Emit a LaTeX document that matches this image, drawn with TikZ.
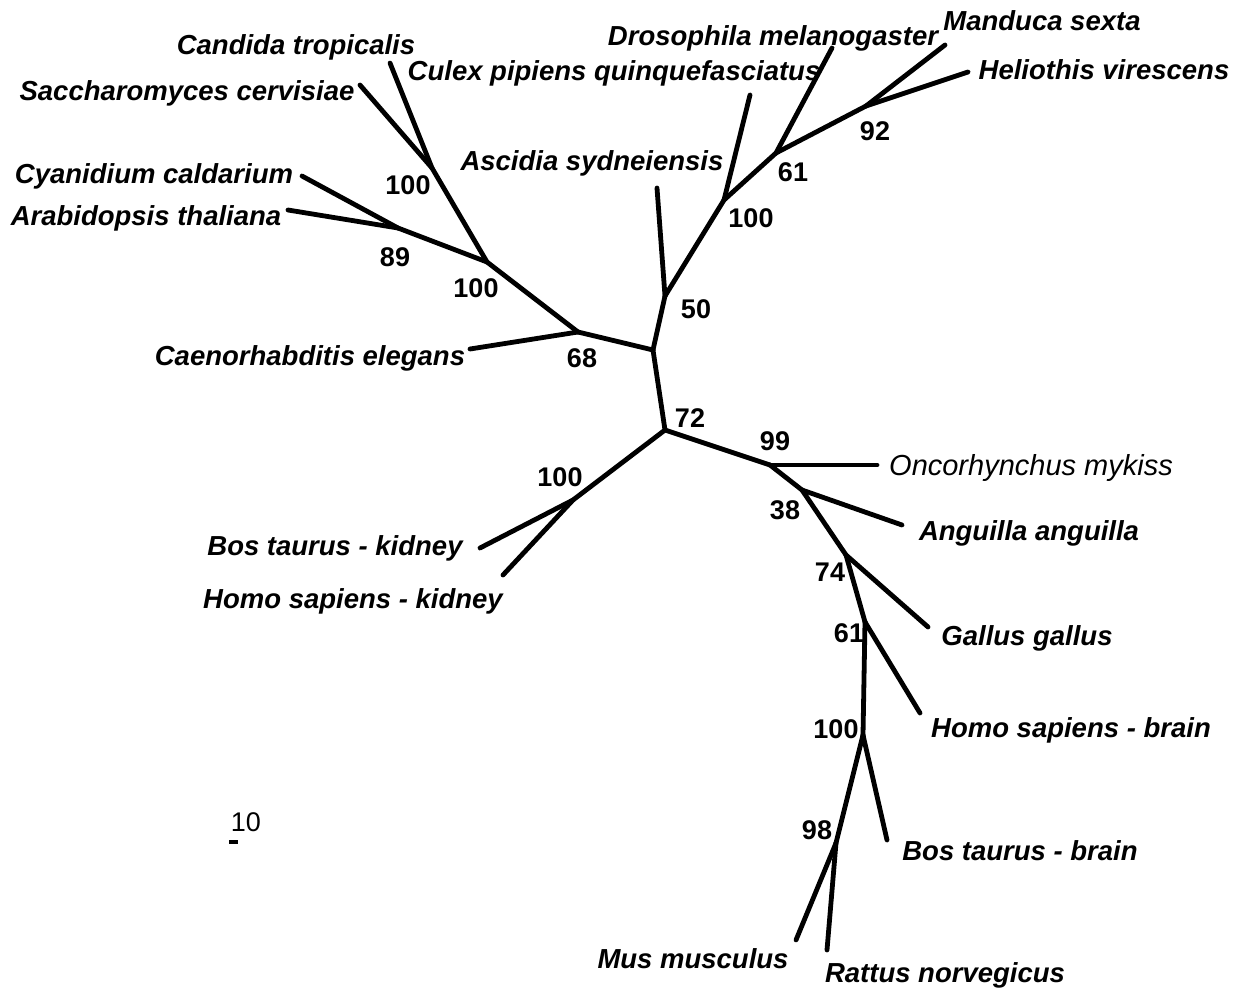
\documentclass[tikz,border=0pt]{standalone}
\usepackage{fontspec}
\setmainfont{Liberation Sans}
\tikzset{
  branch/.style={line width=4.8pt, line cap=round, line join=round},
  taxon/.style={font=\fontsize{27.5}{31}\selectfont\bfseries\itshape, inner sep=0pt, anchor=base},
  boot/.style={font=\fontsize{27}{31}\selectfont\bfseries, inner sep=0pt},
}
\begin{document}
\begin{tikzpicture}[x=1pt,y=-1pt]
    \useasboundingbox (0,0) rectangle (1237,991);
    % inner nodes
    \coordinate (j1) at (653,350);
    \coordinate (j2) at (665,430);
    \coordinate (yst) at (432,168);
    \coordinate (pla) at (398,228);
    \coordinate (euk) at (487,262);
    \coordinate (nem) at (578,332);
    \coordinate (asc) at (665,296);
    \coordinate (dip) at (724,200);
    \coordinate (ins) at (776,153);
    \coordinate (lep) at (866,106);
    \coordinate (kid) at (573,500);
    \coordinate (fsh) at (770,465);
    \coordinate (ang) at (802,490);
    \coordinate (bir) at (846,555);
    \coordinate (hom) at (865,622);
    \coordinate (mam) at (863,735);
    \coordinate (rod) at (836,843);

    % leaves: tip / label centre / name
    \foreach \tip/\lx/\ly/\t in {
        ctro/296/44/Candida tropicalis,
        scer/187/90/Saccharomyces cervisiae,
        ccal/154/173/Cyanidium caldarium,
        atha/146/215/Arabidopsis thaliana,
        cele/310/355/Caenorhabditis elegans,
        asyd/592/160/Ascidia sydneiensis,
        cpip/614/70/Culex pipiens quinquefasciatus,
        dmel/773/35/Drosophila melanogaster,
        msex/1042/20/Manduca sexta,
        hvir/1104/69/Heliothis virescens,
        btk/335/545/Bos taurus - kidney,
        hsk/353/598/Homo sapiens - kidney,
        aang/1029/530/Anguilla anguilla,
        ggal/1027/635/Gallus gallus,
        hsb/1071/727/Homo sapiens - brain,
        btb/1020/850/Bos taurus - brain,
        mmus/693/958/Mus musculus,
        rnor/945/972/Rattus norvegicus}{
      \node[taxon] (\tip lab) at (\lx,{\ly+10}) {\t};
    }
    \node[taxon, font=\fontsize{29}{32}\selectfont\itshape] (omyklab) at (1031,475) {Oncorhynchus mykiss};

    \coordinate (ctro) at (390,63);
    \coordinate (scer) at (360,85);
    \coordinate (ccal) at (302,176);
    \coordinate (atha) at (288,210);
    \coordinate (cele) at (470,349);
    \coordinate (asyd) at (657,188);
    \coordinate (cpip) at (750,95);
    \coordinate (dmel) at (832,48);
    \coordinate (msex) at (945,45);
    \coordinate (hvir) at (968,72);
    \coordinate (btk) at (480,548);
    \coordinate (hsk) at (503,575);
    \coordinate (omyk) at (877,465);
    \coordinate (aang) at (902,525);
    \coordinate (ggal) at (928,627);
    \coordinate (hsb) at (920,713);
    \coordinate (btb) at (887,840);
    \coordinate (mmus) at (796,940);
    \coordinate (rnor) at (827,950);

    % branches
    \foreach \a/\b in {scer/yst, ctro/yst, yst/euk, ccal/pla, atha/pla, pla/euk,
        euk/nem, cele/nem, nem/j1, j1/asc, asyd/asc, asc/dip, cpip/dip,
        dip/ins, dmel/ins, ins/lep, msex/lep, hvir/lep, j1/j2,
        j2/kid, btk/kid, hsk/kid, j2/fsh, omyk/fsh, fsh/ang, aang/ang,
        ang/bir, ggal/bir, bir/hom, hsb/hom, hom/mam, btb/mam,
        mam/rod, mmus/rod, rnor/rod}{
      \draw[branch] (\a) -- (\b);
    }

    % bootstrap values
    \foreach \x/\y/\v [count=\i] in {408/185/100, 395/257/89, 476/288/100,
        582/358/68, 696/309/50, 751/218/100, 793/172/61, 875/131/92,
        690/418/72, 560/477/100, 775/441/99, 785/510/38, 830/572/74,
        849/633/61, 836/729/100, 817/830/98}{
      \node[boot] (bs\i) at (\x,\y) {\v};
    }

    % scale bar
    \coordinate (sb1) at (229,842);
    \coordinate (sb2) at (238,842);
    \draw[line width=4.5pt] (sb1) -- (sb2);
    \node[font=\fontsize{27}{30}\selectfont, inner sep=0pt] (sblab) at (246,822) {10};
\end{tikzpicture}
\end{document}
